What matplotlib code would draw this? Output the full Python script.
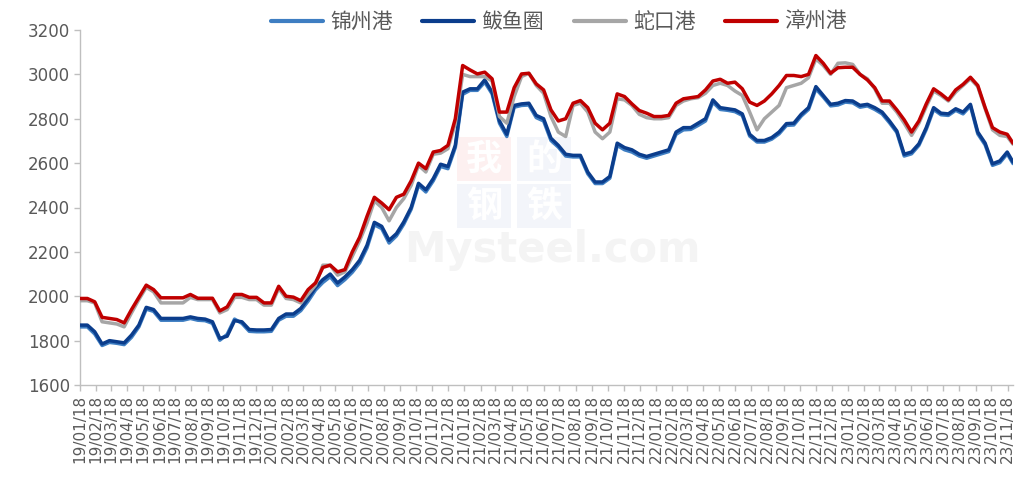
import matplotlib
matplotlib.use('Agg')
import matplotlib.pyplot as plt
import matplotlib.patches as mpatches
import pandas as pd

# ---------------- data ----------------
dates = list(pd.date_range('2019-01-18', periods=127, freq='14D')) + [pd.Timestamp('2023-11-28')]

series_names = ['锦州港', '鲅鱼圈', '蛇口港', '漳州港']

jinzhou = [1862, 1862, 1830, 1778, 1792, 1788, 1782, 1815, 1862, 1942,
           1932, 1892, 1892, 1892, 1892, 1900, 1892, 1890, 1878, 1802,
           1828, 1897, 1878, 1842, 1840, 1840, 1842, 1892, 1910, 1910,
           1935, 1978, 2028, 2062, 2088, 2048, 2075, 2108, 2150, 2218,
           2322, 2305, 2240, 2272, 2325, 2392, 2500, 2470, 2520, 2585,
           2575, 2670, 2910, 2928, 2928, 2965, 2912, 2780, 2720, 2852,
           2860, 2862, 2805, 2790, 2702, 2672, 2632, 2628, 2628, 2552,
           2508, 2508, 2532, 2680, 2660, 2650, 2632, 2622, 2632, 2642,
           2652, 2730, 2750, 2752, 2770, 2790, 2875, 2842, 2838, 2832,
           2815, 2722, 2695, 2695, 2708, 2732, 2770, 2772, 2812, 2842,
           2935, 2898, 2858, 2862, 2875, 2872, 2852, 2858, 2842, 2822,
           2782, 2738, 2632, 2642, 2680, 2752, 2842, 2818, 2815, 2838,
           2822, 2858, 2732, 2682, 2590, 2602, 2642, 2598]

bayuquan = [1870, 1870, 1840, 1785, 1800, 1795, 1790, 1825, 1870, 1950,
            1940, 1900, 1900, 1900, 1900, 1907, 1900, 1897, 1885, 1810,
            1820, 1890, 1885, 1850, 1848, 1848, 1850, 1900, 1920, 1920,
            1945, 1990, 2040, 2075, 2100, 2060, 2087, 2120, 2162, 2230,
            2333, 2315, 2252, 2282, 2335, 2400, 2509, 2480, 2530, 2595,
            2585, 2680, 2920, 2935, 2935, 2975, 2920, 2790, 2730, 2860,
            2867, 2870, 2815, 2800, 2712, 2680, 2640, 2635, 2635, 2560,
            2515, 2515, 2540, 2690, 2670, 2660, 2640, 2630, 2640, 2650,
            2660, 2740, 2760, 2760, 2780, 2800, 2885, 2850, 2845, 2840,
            2822, 2730, 2702, 2702, 2715, 2740, 2778, 2780, 2820, 2850,
            2945, 2905, 2865, 2870, 2882, 2880, 2860, 2865, 2850, 2830,
            2790, 2745, 2640, 2650, 2687, 2760, 2850, 2825, 2822, 2845,
            2830, 2865, 2740, 2690, 2597, 2610, 2650, 2605]

shekou = [1980, 1980, 1970, 1885, 1880, 1875, 1862, 1925, 1985, 2040,
          2020, 1970, 1970, 1970, 1970, 1995, 1985, 1985, 1985, 1925,
          1940, 1995, 1995, 1985, 1985, 1960, 1960, 2035, 1990, 1985,
          1970, 2010, 2050, 2140, 2140, 2095, 2110, 2180, 2250, 2330,
          2430, 2400, 2340, 2400, 2440, 2500, 2590, 2560, 2640, 2645,
          2665, 2780, 3000, 2990, 2990, 2990, 2970, 2810, 2780, 2900,
          2990, 3005, 2950, 2915, 2810, 2740, 2720, 2860, 2870, 2830,
          2740, 2710, 2740, 2890, 2885, 2860, 2820, 2805, 2800, 2800,
          2805, 2860, 2880, 2890, 2895, 2915, 2950, 2960, 2950, 2925,
          2905, 2830, 2750, 2800, 2830, 2860, 2940, 2950, 2960, 2985,
          3070, 3040, 3000, 3050, 3052, 3045, 3000, 2980, 2935, 2870,
          2870, 2830, 2780, 2725, 2780, 2855, 2925, 2905, 2880, 2920,
          2950, 2980, 2945, 2845, 2750, 2725, 2720, 2685]

zhangzhou = [1990, 1990, 1975, 1905, 1900, 1895, 1880, 1940, 1995, 2050,
             2030, 1993, 1993, 1993, 1993, 2008, 1991, 1991, 1991, 1934,
             1952, 2008, 2008, 1995, 1995, 1970, 1970, 2045, 2000, 1996,
             1980, 2030, 2060, 2130, 2140, 2110, 2120, 2200, 2266, 2360,
             2446, 2420, 2390, 2446, 2460, 2520, 2600, 2575, 2650, 2657,
             2680, 2800, 3040, 3020, 3002, 3010, 2980, 2830, 2830, 2940,
             3002, 3005, 2957, 2930, 2840, 2790, 2800, 2870, 2882, 2850,
             2780, 2750, 2780, 2912, 2900, 2867, 2837, 2825, 2810, 2810,
             2815, 2870, 2890, 2895, 2900, 2930, 2970, 2978, 2960, 2965,
             2935, 2875, 2860, 2880, 2912, 2950, 2995, 2995, 2990, 3000,
             3085, 3050, 3005, 3030, 3032, 3032, 3000, 2975, 2940, 2880,
             2880, 2840, 2795, 2740, 2790, 2867, 2935, 2912, 2885, 2930,
             2955, 2987, 2950, 2850, 2760, 2740, 2730, 2690]

tick_dates = [pd.Timestamp(y, m, 18) for y in range(2019, 2024) for m in range(1, 13)
              if pd.Timestamp(y, m, 18) <= pd.Timestamp('2023-11-18')]
tick_labels = [d.strftime('%y/%m/%d') for d in tick_dates]
y_ticks = list(range(1600, 3201, 200))

colors = ['#3E7EC2', '#0B3D8C', '#A6A6A6', '#C00000']

# ---------------- figure ----------------
W, H = 1016, 491
fig = plt.figure(figsize=(W / 100, H / 100), dpi=100)
ax = fig.add_axes([80 / W, 1 - 385 / H, 933 / W, 355 / H])

handles = []
for name, vals, c in zip(series_names, [jinzhou, bayuquan, shekou, zhangzhou], colors):
    ln, = ax.plot(dates, vals, color=c, lw=2.5, solid_joinstyle='round',
                  solid_capstyle='round', label=name, zorder=3)
    handles.append(ln)

ax.set_xlim(dates[0], dates[-1])
ax.set_ylim(1600, 3200)
ax.set_yticks(y_ticks)
ax.set_yticklabels([str(v) for v in y_ticks], family='DejaVu Sans')
ax.set_xticks(tick_dates)
ax.set_xticklabels(tick_labels, rotation=90, family='DejaVu Sans')

for s in ['top', 'right']:
    ax.spines[s].set_visible(False)
for s in ['left', 'bottom']:
    ax.spines[s].set_color('#BFBFBF')
    ax.spines[s].set_linewidth(1.0)

ax.tick_params(axis='y', length=4, width=1, color='#BFBFBF', labelcolor='#595959',
               labelsize=12, pad=3)
ax.tick_params(axis='x', length=4, width=1, color='#BFBFBF', labelcolor='#595959',
               labelsize=11, pad=3)

# watermark (very faint)
def fx(x):
    return (x - 80) / 933
def fy(y):
    return (385 - y) / 355

boxes = [(457, 137, '我', '#FDF0F0'), (517, 137, '的', '#F3F5FA'),
         (457, 184, '钢', '#F3F5FA'), (517, 184, '铁', '#F3F5FA')]
for bx, by, ch, bc in boxes:
    r = mpatches.Rectangle((fx(bx), fy(by + 44)), 54 / 933, 44 / 355,
                           transform=ax.transAxes, facecolor=bc, edgecolor='none', zorder=0.5)
    ax.add_patch(r)
    ax.text(fx(bx + 27), fy(by + 22), ch, transform=ax.transAxes, ha='center', va='center',
            fontsize=26, color='white', family='Noto Sans CJK SC', fontweight='bold', zorder=0.6)
ax.text(fx(552), fy(250), 'Mysteel.com', transform=ax.transAxes, ha='center', va='center',
        fontsize=30, color='#F4F4F4', fontweight='bold', family='DejaVu Sans', zorder=0.6)

leg = fig.legend(handles=handles, labels=series_names, loc='center',
                 bbox_to_anchor=(559 / W, 1 - 22 / H), ncol=4, frameon=False,
                 prop={'family': ['Noto Sans CJK SC', 'DejaVu Sans'], 'size': 15},
                 handlelength=2.5, handletextpad=0.35, columnspacing=1.4)
for t in leg.get_texts():
    t.set_color('#595959')
for l in leg.get_lines():
    l.set_linewidth(3)

fig.savefig('out.png', dpi=100)
